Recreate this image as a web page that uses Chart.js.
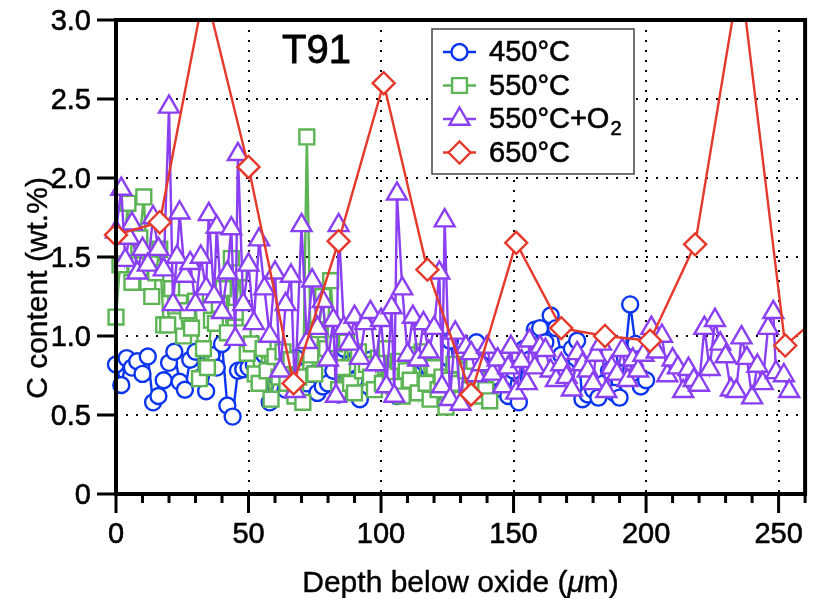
<!DOCTYPE html>
<html>
<head>
<meta charset="utf-8">
<script src="https://cdn.jsdelivr.net/npm/chart.js@4.4.1/dist/chart.umd.min.js"></script>
<style>
  body { margin: 0; background: #fff; }
</style>
</head>
<body>
<canvas id="chart" width="819" height="598"></canvas>
<script>
// tick values / labels
const xTickValues = [0, 50, 100, 150, 200, 250];
const xMinorTicks = [0, 10, 20, 30, 40, 50, 60, 70, 80, 90, 100, 110, 120, 130, 140, 150, 160, 170, 180, 190, 200, 210, 220, 230, 240, 250, 260];
const yTickValues = [0, 0.5, 1.0, 1.5, 2.0, 2.5, 3.0];
const yTickLabels = ['0', '0.5', '1.0', '1.5', '2.0', '2.5', '3.0'];

const seriesLabels = ['450°C', '550°C', '550°C+O₂', '650°C'];

// 450°C
const depth450 = [0, 2, 4, 6, 8, 10, 12, 14, 16, 18, 20, 22, 24, 26, 28, 30, 32, 34, 36, 38, 40, 42, 44, 46, 48, 50,
  52, 54, 56, 58, 60, 62, 64, 66, 68, 70, 72, 74, 76, 78, 80, 82, 84, 86, 88, 90, 92, 94, 96, 98, 100,
  102, 104, 106, 108, 110, 112, 114, 116, 118, 120, 122, 124, 126, 128, 130, 132, 134, 136, 138, 140, 142, 144, 146, 148, 150,
  152, 154, 156, 158, 160, 162, 164, 166, 168, 170, 172, 174, 176, 178, 180, 182, 184, 186, 188, 190, 192, 194, 196, 198, 200];
const carbon450 = [0.82, 0.69, 0.86, 0.80, 0.84, 0.76, 0.87, 0.58, 0.62, 0.72, 0.83, 0.90, 0.71, 0.66, 0.85, 0.90, 0.74, 0.65, 0.88, 0.80, 0.95, 0.56, 0.49, 0.78, 0.79, 0.80,
  0.82, 0.73, 0.88, 0.58, 0.75, 0.82, 0.66, 0.78, 0.86, 0.72, 0.70, 0.76, 0.64, 0.68, 0.70, 0.78, 0.63, 0.92, 0.82, 0.72, 0.60, 0.78, 0.85, 0.72, 0.80,
  0.70, 0.74, 0.62, 0.80, 0.64, 0.76, 0.68, 0.86, 0.80, 0.64, 0.78, 0.73, 0.97, 0.80, 0.88, 0.76, 0.66, 0.96, 0.82, 0.68, 0.74, 0.80, 0.66, 0.62, 0.78,
  0.58, 0.92, 0.85, 1.04, 1.05, 0.96, 1.13, 1.05, 0.88, 0.78, 0.92, 0.97, 0.60, 0.63, 0.66, 0.61, 0.70, 0.78, 0.64, 0.61, 0.86, 1.20, 0.95, 0.68, 0.72];

// 550°C
const depth550 = [0, 1.5, 3, 4.5, 6, 7.5, 9, 10.5, 12, 13.5, 15, 16.5, 18, 19.5, 21, 22.5, 24, 25.5, 27, 28.5, 30, 31.5, 33, 34.5, 36, 37.5, 39, 40.5,
  42, 43.5, 45, 46.5, 48, 49.5, 51, 52.5, 54, 55.5, 57, 58.5, 60, 61.5, 63, 64.5, 66, 67.5, 69, 70.5, 72, 73.5, 75, 76.5, 78, 79.5,
  81, 82.5, 84, 85.5, 87, 88.5, 90, 91.5, 93, 94.5, 96, 97.5, 99, 100.5, 102, 103.5, 105, 106.5, 108, 109.5, 111, 112.5, 114, 115.5,
  117, 118.5, 120, 121.5, 123, 124.5, 126, 127.5, 129, 130.5, 132, 133.5, 135, 136.5, 138, 139.5, 141];
const carbon550 = [1.12, 1.45, 1.55, 1.84, 1.34, 1.45, 1.62, 1.88, 1.34, 1.25, 1.40, 1.55, 1.07, 1.07, 1.30, 1.19, 1.21, 1.00, 1.16, 1.05, 1.22, 0.73, 0.92, 0.80, 1.10, 1.08, 1.20, 1.30,
  1.02, 1.49, 1.15, 1.40, 1.02, 0.89, 0.95, 0.76, 0.70, 0.92, 0.78, 0.60, 0.87, 0.74, 0.90, 0.70, 0.85, 0.62, 0.74, 0.58, 2.26, 0.88, 0.76, 1.04, 1.25, 0.92,
  1.35, 0.95, 0.66, 0.80, 0.96, 0.70, 0.64, 0.90, 0.78, 0.82, 0.74, 0.66, 0.86, 0.70, 0.92, 0.76, 0.68, 0.84, 0.62, 0.78, 0.72, 0.88, 0.64, 0.90,
  0.70, 0.60, 0.80, 0.66, 0.74, 0.55, 0.72, 0.82, 0.70, 0.60, 0.78, 0.66, 0.84, 0.62, 0.72, 0.66, 0.59];

// 550°C+O2
const depth550O2 = [0, 2, 3.5, 5, 6, 8, 10, 12, 14, 16, 18, 20, 21.5, 23, 24, 26, 28, 30, 32, 34, 35, 37, 38, 40, 42, 43.5, 45, 46, 48, 50,
  52, 54, 56, 58, 60, 62, 64, 66, 67.5, 70, 72, 74, 76, 78, 80, 82, 83, 84, 86, 88, 90, 92, 94, 96, 98, 100,
  102, 104, 105, 106, 108, 110, 112, 114, 116, 118, 120, 122, 123, 124, 126, 128, 130,
  132, 134, 136, 138, 140, 142, 144, 146, 148, 149, 151, 153, 155, 156, 158, 160, 162, 164, 166, 168, 170, 172, 174, 176, 178, 180,
  181, 183, 185, 187, 189, 191, 193, 195, 197, 199, 202, 204, 206, 208, 210, 212, 214, 216, 218, 220, 222, 224, 226, 228, 230,
  232, 234, 236, 238, 240, 242, 244, 246, 248, 249, 252, 254];
const carbon550O2 = [1.66, 1.93, 1.48, 1.62, 1.71, 1.40, 1.55, 1.45, 1.75, 1.55, 1.42, 2.45, 1.20, 1.50, 1.78, 1.38, 1.46, 1.20, 1.50, 1.30, 1.77, 1.25, 1.69, 1.15, 1.40, 1.68, 0.98, 2.15, 1.20, 1.45,
  1.08, 1.61, 1.30, 1.00, 1.40, 0.78, 1.20, 1.38, 0.65, 1.70, 0.96, 1.35, 1.05, 1.22, 0.85, 1.10, 0.62, 1.70, 1.05, 0.95, 1.12, 0.86, 1.08, 1.15, 0.82, 1.10,
  0.68, 1.18, 0.62, 1.90, 1.30, 0.88, 1.12, 0.85, 1.08, 0.90, 1.05, 1.40, 0.68, 1.73, 0.60, 1.02, 0.57,
  0.93, 0.89, 0.75, 0.82, 0.93, 0.76, 0.85, 0.68, 0.80, 0.93, 0.64, 0.84, 0.70, 0.97, 0.80, 0.93, 0.91, 0.78, 0.72, 0.82, 0.74, 0.66, 0.89, 0.82, 0.78, 0.70,
  0.88, 0.95, 0.65, 0.80, 0.76, 0.91, 0.72, 0.85, 0.78, 0.88, 1.05, 0.90, 1.00, 0.75, 0.85, 0.80, 0.65, 0.79, 0.72, 0.69, 1.05, 0.79, 1.10, 0.95, 0.87,
  0.66, 0.65, 0.99, 0.86, 0.61, 0.81, 0.70, 1.05, 1.15, 0.77, 0.75, 0.65];

// 650°C
const depth650 = [0, 16.5, 33.5, 50, 67, 84, 101, 117.5, 134, 151, 168, 184.5, 201.5, 218.5, 235.5, 252.5, 269];
const carbon650 = [1.64, 1.72, 3.2, 2.07, 0.70, 1.60, 2.60, 1.42, 0.63, 1.59, 1.05, 1.00, 0.97, 1.58, 3.3, 0.94, 1.18];

const colors = ['#0b35ee', '#5cb454', '#8a3ff2', '#e5392c'];
const styles = ['circle', 'rect', 'triangle', 'rectRot'];
const radii = [8, 10.5, 11.5, 11];

function toPoints(xs, ys) {
  return xs.map((x, i) => ({ x: x, y: ys[i] }));
}

const FONT = '"Liberation Sans", Arial, sans-serif';

function makeDataset(i, xs, ys) {
  return {
    label: seriesLabels[i],
    data: toPoints(xs, ys),
    borderColor: colors[i],
    backgroundColor: '#fff',
    pointBackgroundColor: '#fff',
    pointBorderColor: colors[i],
    pointStyle: styles[i],
    pointRadius: radii[i],
    pointBorderWidth: 2.4,
    borderWidth: 2.4,
    tension: 0,
    order: 3 - i,
    clip: { left: 14, top: 0, right: 0, bottom: 14 }
  };
}

// text with a faint outline so it reads as heavy as the original
function heavyText(ctx, txt, x, y) {
  ctx.fillText(txt, x, y);
  ctx.strokeText(txt, x, y);
}

const decorations = {
  id: 'decorations',
  afterDraw(chart) {
    const { ctx, chartArea: area, scales: { x, y } } = chart;
    ctx.save();

    // legend
    const lx = 432, ly = 29, lw = 202, lh = 145;
    ctx.fillStyle = '#fff';
    ctx.fillRect(lx, ly, lw, lh);
    ctx.strokeStyle = '#444';
    ctx.lineWidth = 1.5;
    ctx.strokeRect(lx, ly, lw, lh);
    chart.data.datasets.forEach((ds, i) => {
      const cy = 52 + i * 33.5;
      ctx.strokeStyle = ds.borderColor;
      ctx.lineWidth = 2.4;
      ctx.beginPath();
      ctx.moveTo(443, cy);
      ctx.lineTo(476, cy);
      ctx.stroke();
      ctx.fillStyle = '#fff';
      Chart.helpers.drawPoint(ctx, { pointStyle: ds.pointStyle, radius: ds.pointRadius, borderWidth: 2.4, rotation: 0 }, 459.5, cy);
      ctx.fillStyle = '#000';
      ctx.strokeStyle = '#000';
      ctx.lineWidth = 0.6;
      ctx.font = '29px ' + FONT;
      ctx.textAlign = 'left';
      ctx.textBaseline = 'middle';
      const label = ds.label;
      if (label.includes('₂')) {
        const main = label.replace('₂', '');
        heavyText(ctx, main, 489, cy + 1);
        const w = ctx.measureText(main).width;
        ctx.font = '20px ' + FONT;
        heavyText(ctx, '2', 489 + w + 1, cy + 10);
      } else {
        heavyText(ctx, label, 489, cy + 1);
      }
    });

    // frame
    ctx.strokeStyle = '#000';
    ctx.lineWidth = 4;
    ctx.strokeRect(area.left, area.top, area.right - area.left, area.bottom - area.top);

    // tick marks
    ctx.lineWidth = 3;
    ctx.beginPath();
    xMinorTicks.forEach(v => {
      const px = x.getPixelForValue(v);
      const len = xTickValues.includes(v) ? 19 : 9;
      ctx.moveTo(px, area.bottom);
      ctx.lineTo(px, area.bottom + len);
    });
    yTickValues.forEach(v => {
      const py = y.getPixelForValue(v);
      ctx.moveTo(area.left, py);
      ctx.lineTo(area.left - 19, py);
    });
    ctx.stroke();

    // tick labels
    ctx.fillStyle = '#000';
    ctx.lineWidth = 0.6;
    ctx.font = '29px ' + FONT;
    ctx.textAlign = 'center';
    ctx.textBaseline = 'alphabetic';
    xTickValues.forEach(v => heavyText(ctx, String(v), x.getPixelForValue(v), 543));
    ctx.textAlign = 'right';
    ctx.textBaseline = 'middle';
    yTickValues.forEach((v, i) => heavyText(ctx, yTickLabels[i], 91, y.getPixelForValue(v) + 2));

    // x title with italic mu
    const parts = [['Depth below oxide (', ''], ['μ', 'italic '], ['m)', '']];
    let total = 0;
    const widths = parts.map(p => {
      ctx.font = p[1] + '30px ' + FONT;
      const w = ctx.measureText(p[0]).width;
      total += w;
      return w;
    });
    let tx = (area.left + area.right) / 2 - total / 2;
    ctx.textAlign = 'left';
    ctx.textBaseline = 'alphabetic';
    ctx.lineWidth = 0.4;
    parts.forEach((p, i) => {
      ctx.font = p[1] + '30px ' + FONT;
      heavyText(ctx, p[0], tx, 592);
      tx += widths[i];
    });

    // y title
    ctx.save();
    ctx.translate(47, 288);
    ctx.rotate(-Math.PI / 2);
    ctx.textAlign = 'center';
    ctx.textBaseline = 'alphabetic';
    ctx.font = '30px ' + FONT;
    heavyText(ctx, 'C content (wt.%)', 0, 0);
    ctx.restore();

    // sample name
    ctx.font = '40px ' + FONT;
    ctx.textAlign = 'left';
    ctx.lineWidth = 0.8;
    heavyText(ctx, 'T91', 282, 63);

    ctx.restore();
  }
};

new Chart(document.getElementById('chart'), {
  type: 'line',
  data: {
    datasets: [
      makeDataset(0, depth450, carbon450),
      makeDataset(1, depth550, carbon550),
      makeDataset(2, depth550O2, carbon550O2),
      makeDataset(3, depth650, carbon650)
    ]
  },
  options: {
    responsive: false,
    animation: false,
    layout: { padding: { top: 20, right: 3, left: 0, bottom: 0 } },
    plugins: { legend: { display: false }, tooltip: { enabled: false } },
    scales: {
      x: {
        type: 'linear',
        min: 0,
        max: 260,
        afterFit: s => { s.height = 104; },
        afterBuildTicks: s => { s.ticks = xTickValues.map(v => ({ value: v })); },
        border: { display: false, dash: [2, 8] },
        grid: { color: '#000', lineWidth: 2, drawTicks: false },
        ticks: { display: false }
      },
      y: {
        type: 'linear',
        min: 0,
        max: 3,
        afterFit: s => { s.width = 116; },
        afterBuildTicks: s => { s.ticks = yTickValues.map(v => ({ value: v })); },
        border: { display: false, dash: [2, 8] },
        grid: { color: '#000', lineWidth: 2, drawTicks: false },
        ticks: { display: false }
      }
    }
  },
  plugins: [decorations]
});
</script>
</body>
</html>
